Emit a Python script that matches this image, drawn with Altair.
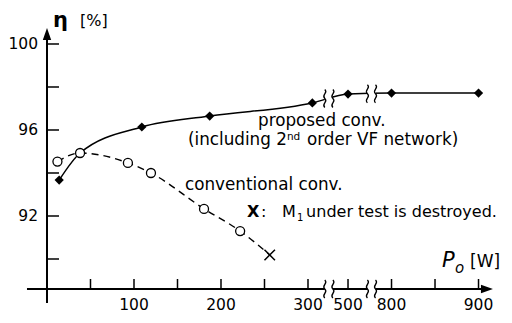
import altair as alt
import pandas as pd

# ---------------- data ----------------
prop_W = [14, 38, 109, 187, 305, 500, 800, 900]
prop_eta = [93.67, 94.93, 96.14, 96.65, 97.26, 97.67, 97.72, 97.72]

conv_W = [12, 38, 93, 119.5, 180.5, 222]
conv_eta = [94.53, 94.93, 94.47, 94.00, 92.33, 91.30]

destroyed_W = [256]
destroyed_eta = [90.19]

xtick_W = [50, 100, 150, 200, 250, 300, 500, 800, 850, 900]
xtick_labels = ["", "100", "", "200", "", "300", "500", "800", "", "900"]

ytick_vals = [90, 92, 94, 96, 98, 100]
ytick_labels = ["", "92", "", "96", "", "100"]

break_W = [325, 528]
break_curve_eta = [97.47, 97.69]

# ---------------- broken-axis mapping ----------------
def to_d(w):
    if w <= 330:
        return w
    if w <= 650:
        return w - 154
    return w - 404

XMIN, XMAX = -31.03, 520.69
YMIN, YMAX = 88.093, 101.116
AX_Y = 88.605          # y value where the x axis sits
PX_Y = 21.5            # px per % on y
PX_X = 0.87            # px per unit on x

xs = alt.Scale(domain=[XMIN, XMAX], nice=False, zero=False)
ys = alt.Scale(domain=[YMIN, YMAX], nice=False, zero=False)
X = alt.X("d:Q", scale=xs, axis=None)
Y = alt.Y("eta:Q", scale=ys, axis=None)

prop = pd.DataFrame({"d": [to_d(w) for w in prop_W], "eta": prop_eta})
conv = pd.DataFrame({"d": [to_d(w) for w in conv_W], "eta": conv_eta})
conv_line = pd.DataFrame({"d": [to_d(w) for w in conv_W + destroyed_W],
                          "eta": conv_eta + destroyed_eta})
dest = pd.DataFrame({"d": [to_d(w) for w in destroyed_W], "eta": destroyed_eta})

breaks = pd.DataFrame({
    "d": [to_d(w) for w in break_W] * 2,
    "eta": break_curve_eta + [AX_Y, AX_Y],
})

xt = pd.DataFrame({"d": [to_d(w) for w in xtick_W], "lab": xtick_labels,
                   "eta": AX_Y, "eta2": AX_Y + 10 / PX_Y})
yt = pd.DataFrame({"eta": ytick_vals, "lab": ytick_labels, "d": 0.0, "d2": 12 / PX_X})

FONT = "DejaVu Sans"

# ---------------- layers ----------------
line_prop = alt.Chart(prop).mark_line(color="black", strokeWidth=1.5, interpolate="monotone").encode(x=X, y=Y)
line_conv = alt.Chart(conv_line).mark_line(color="black", strokeWidth=1.4, strokeDash=[7, 5],
                                           interpolate="monotone").encode(x=X, y=Y)

# axes lines
xaxis_df = pd.DataFrame({"d": [-23.0], "d2": [505.0], "eta": [AX_Y]})
yaxis_df = pd.DataFrame({"d": [0.0], "eta": [87.95], "eta2": [100.45]})
xaxis = alt.Chart(xaxis_df).mark_rule(color="black", strokeWidth=2).encode(x=X, x2="d2:Q", y=Y)
yaxis = alt.Chart(yaxis_df).mark_rule(color="black", strokeWidth=2).encode(x=X, y=Y, y2="eta2:Q")

arrow_r = alt.Chart(pd.DataFrame({"d": [505.7], "eta": [AX_Y]})).mark_point(
    shape="M-1,-0.7L1,0L-1,0.7Z", filled=True, color="black", opacity=1, size=144).encode(x=X, y=Y)
arrow_u = alt.Chart(pd.DataFrame({"d": [0.0], "eta": [100.465]})).mark_point(
    shape="M-0.7,1L0,-1L0.7,1Z", filled=True, color="black", opacity=1, size=144).encode(x=X, y=Y)

xticks = alt.Chart(xt).mark_rule(color="black", strokeWidth=1.5).encode(x=X, y=Y, y2="eta2:Q")
yticks = alt.Chart(yt).mark_rule(color="black", strokeWidth=1.5).encode(x=X, x2="d2:Q", y=Y)

xlabels = alt.Chart(xt).mark_text(font=FONT, fontSize=15.5, align="center", baseline="alphabetic",
                                  color="black").encode(x=X, y=alt.value(290), text="lab:N")
ylabels = alt.Chart(yt).mark_text(font=FONT, fontSize=15.5, align="right", baseline="middle",
                                  color="black").encode(x=alt.value(18), y=Y, text="lab:N")

# axis breaks
gap = alt.Chart(breaks).mark_point(shape="M-0.55,-0.75L0.35,-0.75L0.35,0.75L-0.55,0.75Z",
                                   filled=True, color="white", opacity=1, size=324).encode(x=X, y=Y)
squig_path = ("M-0.55,-1C-0.1,-0.6-1.0,-0.4-0.55,0C-0.1,0.4-1.0,0.6-0.55,1"
              "M0.35,-1C0.8,-0.6-0.1,-0.4,0.35,0C0.8,0.4-0.1,0.6,0.35,1")
squig = alt.Chart(breaks).mark_point(shape=squig_path, filled=False, color="black", opacity=1,
                                     strokeWidth=1.3, size=324).encode(x=X, y=Y)

# markers
diam = alt.Chart(prop).mark_point(shape="diamond", filled=True, color="black", opacity=1,
                                  size=85).encode(x=X, y=Y)
circ = alt.Chart(conv).mark_point(shape="circle", filled=True, fill="white", stroke="black",
                                  strokeWidth=1.3, opacity=1, size=81).encode(x=X, y=Y)
xmark = alt.Chart(dest).mark_point(shape="M-1,-1L1,1M-1,1L1,-1", filled=False, color="black",
                                   strokeWidth=1.5, opacity=1, size=110).encode(x=X, y=Y)

# annotations (W, eta, text, size, dx, dy, weight)
ann_W = [242.5, 162, 162, 162, 158.6, 230.0, 230.0, 230.0, 230.0, 230.0]
ann_eta = [96.18, 95.28, 95.28, 95.28, 93.21, 91.95, 91.95, 91.95, 91.95, 91.95]
ann_text = ["proposed conv.", "(including 2", "nd", "order VF network)", "conventional conv.",
            "X", ":", "M", "1", "under test is destroyed."]
ann_size = [16.8, 16.8, 10.5, 16.8, 16.8, 16, 16, 16, 10, 16]
ann_dx = [0, 0, 99, 119, 0, 0, 14, 35, 50, 59]
ann_dy = [0, 0, -5, 0, 0, 0, 0, 0, 4, 0]
ann_weight = ["normal", "normal", "normal", "normal", "normal", "bold", "normal", "normal",
              "normal", "normal"]

ann_layers = []
for w, e, t, s, dx, dy, fw in zip(ann_W, ann_eta, ann_text, ann_size, ann_dx, ann_dy, ann_weight):
    df = pd.DataFrame({"d": [to_d(w)], "eta": [e], "t": [t]})
    ann_layers.append(
        alt.Chart(df).mark_text(font=FONT, fontSize=s, align="left", baseline="alphabetic",
                                dx=dx, dy=dy, fontWeight=fw, color="black")
        .encode(x=X, y=Y, text="t:N")
    )

# axis titles (pixel placement in plot coords)
title_df = pd.DataFrame({"t": ["η", "[%]", "P", "o", "[W]"],
                         "px": [33, 60, 422, 435, 450],
                         "py": [7, 6, 247, 253, 247],
                         "fs": [21, 16, 21, 15, 17],
                         "it": ["normal", "normal", "italic", "italic", "normal"]})
title_layers = []
for _, r in title_df.iterrows():
    title_layers.append(
        alt.Chart(pd.DataFrame({"t": [r.t]})).mark_text(
            font=FONT, fontSize=float(r.fs), fontStyle=r.it, align="left", baseline="alphabetic",
            color="black", fontWeight="bold" if r.t == "η" else "normal")
        .encode(x=alt.value(float(r.px)), y=alt.value(float(r.py)), text="t:N")
    )

chart = alt.layer(
    line_prop, line_conv, xaxis, yaxis, arrow_r, arrow_u, xticks, yticks,
    gap, squig, diam, circ, xmark, xlabels, ylabels, *ann_layers, *title_layers
).properties(
    width=480, height=280,
    autosize=alt.AutoSizeParams(type="none"),
    padding={"left": 12, "top": 12, "right": 4, "bottom": 15},
).configure_view(stroke=None)

chart.save("out.html", embed_options={"renderer": "svg", "actions": False})
